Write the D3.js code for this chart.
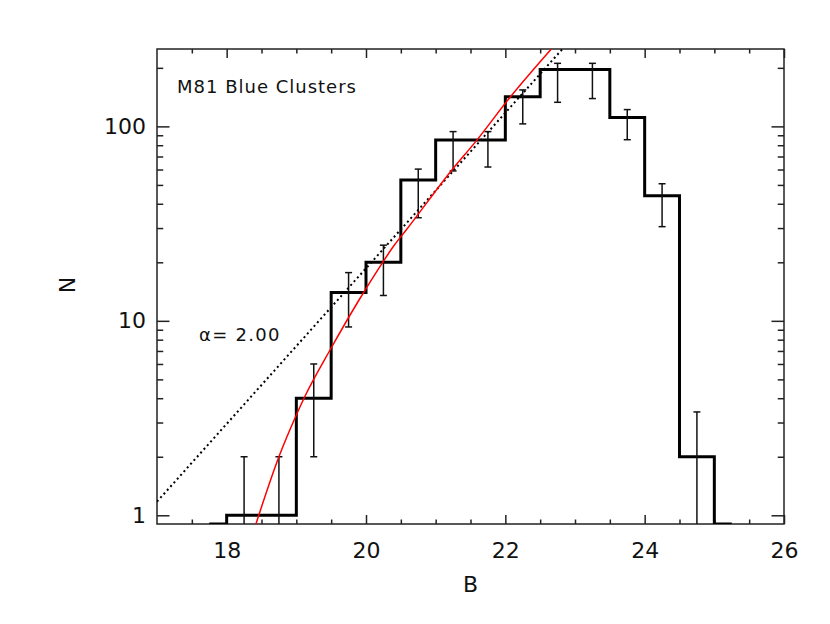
<!DOCTYPE html>
<html>
<head>
<meta charset="utf-8">
<script src="https://cdnjs.cloudflare.com/ajax/libs/d3/7.8.5/d3.min.js"></script>
<style>
  body { margin: 0; background: #fff; }
  text { font-family: 'DejaVu Sans', sans-serif; fill: #111; }
  .axis path { display: none; }
  .axis line { stroke: #222; stroke-width: 1.5; }
</style>
</head>
<body>
<svg width="830" height="624"></svg>
<script>
// histogram bins (centres) and counts
var binCenters = [17.75, 18.25, 18.75, 19.25, 19.75, 20.25, 20.75, 21.25, 21.75, 22.25, 22.75, 23.25, 23.75, 24.25, 24.75, 25.25];
var counts = [0, 1, 1, 4, 14, 20, 53, 85, 85, 142, 196, 196, 111, 44, 2, 0];

// error bars
var errB = [18.25, 18.75, 19.25, 19.75, 20.25, 20.75, 21.25, 21.75, 22.25, 22.75, 23.25, 23.75, 24.25, 24.75];
var errHi = [2, 2, 6, 17.7, 24.5, 60.3, 94, 94, 154, 211, 211, 122, 50.7, 3.4];
var errLo = [0, 0, 2, 9.3, 13.5, 33.9, 59, 61.8, 103, 133, 139, 85.4, 30.5, 0];

// red fitted curve
var fitB = [18.42, 18.75, 19.0, 19.11, 19.5, 19.9, 20.24, 20.41, 20.58, 21.23, 21.58, 22.06, 22.66];
var fitN = [0.9, 2.0, 3.28, 4.0, 7.25, 12.8, 20.0, 24.6, 29.4, 59.5, 84, 140, 251];

// dotted power law, alpha = 2
var dotB = [17, 22.82];
var dotN = [1.175, 250];

var xMajor = [18, 20, 22, 24, 26];
var xMinor = [17.5, 18.5, 19, 19.5, 20.5, 21, 21.5, 22.5, 23, 23.5, 24.5, 25, 25.5];
var yMajor = [1, 10, 100];
var yMinor = [2, 3, 4, 5, 6, 7, 8, 9, 20, 30, 40, 50, 60, 70, 80, 90, 200];

var svg = d3.select('svg');
var padding = {t: 49, r: 46, b: 100, l: 157};
var chartWidth = 830 - padding.l - padding.r;
var chartHeight = 624 - padding.t - padding.b;

var chartG = svg.append('g')
    .attr('transform', 'translate(' + [padding.l, padding.t] + ')');

var x = d3.scaleLinear().domain([17, 26]).range([0, chartWidth]);
var y = d3.scaleLog().domain([0.902, 250]).range([chartHeight, 0]).clamp(true);

svg.append('defs').append('clipPath').attr('id', 'clip')
    .append('rect').attr('width', chartWidth).attr('height', chartHeight);

// ticks, all pointing inward
var xTick = 9, yTick = 12.5;
function noLabel() { return ''; }

chartG.append('g').attr('class', 'axis')
    .attr('transform', 'translate(0,' + chartHeight + ')')
    .call(d3.axisBottom(x).tickValues(xMajor).tickSize(-xTick).tickPadding(18).tickFormat(d3.format('d')))
    .selectAll('text').style('font-size', '22px').attr('font-family', null);
chartG.append('g').attr('class', 'axis')
    .attr('transform', 'translate(0,' + chartHeight + ')')
    .call(d3.axisBottom(x).tickValues(xMinor).tickSize(-xTick / 2).tickFormat(noLabel));
chartG.append('g').attr('class', 'axis')
    .call(d3.axisTop(x).tickValues(xMajor).tickSize(-xTick).tickFormat(noLabel));
chartG.append('g').attr('class', 'axis')
    .call(d3.axisTop(x).tickValues(xMinor).tickSize(-xTick / 2).tickFormat(noLabel));

chartG.append('g').attr('class', 'axis')
    .call(d3.axisLeft(y).tickValues(yMajor).tickSize(-yTick).tickPadding(11).tickFormat(d3.format('d')))
    .selectAll('text').style('font-size', '22px').attr('font-family', null);
chartG.append('g').attr('class', 'axis')
    .call(d3.axisLeft(y).tickValues(yMinor).tickSize(-yTick / 2).tickFormat(noLabel));
chartG.append('g').attr('class', 'axis')
    .attr('transform', 'translate(' + chartWidth + ',0)')
    .call(d3.axisRight(y).tickValues(yMajor).tickSize(-yTick).tickFormat(noLabel));
chartG.append('g').attr('class', 'axis')
    .attr('transform', 'translate(' + chartWidth + ',0)')
    .call(d3.axisRight(y).tickValues(yMinor).tickSize(-yTick / 2).tickFormat(noLabel));

chartG.append('rect')
    .attr('width', chartWidth).attr('height', chartHeight)
    .attr('fill', 'none').attr('stroke', '#222').attr('stroke-width', 1.5);

var plot = chartG.append('g').attr('clip-path', 'url(#clip)');

// dotted alpha=2 line
plot.append('path')
    .datum(d3.zip(dotB, dotN))
    .attr('d', d3.line().x(function(d) { return x(d[0]); }).y(function(d) { return y(d[1]); }))
    .attr('fill', 'none').attr('stroke', '#000')
    .attr('stroke-width', 2).attr('stroke-dasharray', '2,3');

// histogram
plot.append('path')
    .datum(d3.zip(binCenters, counts))
    .attr('d', d3.line().curve(d3.curveStep)
        .x(function(d) { return x(d[0]); }).y(function(d) { return y(d[1]); }))
    .attr('fill', 'none').attr('stroke', '#000').attr('stroke-width', 3);

// error bars
var bars = plot.selectAll('.err').data(d3.range(errB.length)).enter().append('g').attr('class', 'err');
bars.append('line')
    .attr('x1', function(i) { return x(errB[i]); }).attr('x2', function(i) { return x(errB[i]); })
    .attr('y1', function(i) { return y(errLo[i]); }).attr('y2', function(i) { return y(errHi[i]); })
    .attr('stroke', '#111').attr('stroke-width', 1.5);
bars.append('line')
    .attr('x1', function(i) { return x(errB[i]) - 3.5; }).attr('x2', function(i) { return x(errB[i]) + 3.5; })
    .attr('y1', function(i) { return y(errHi[i]); }).attr('y2', function(i) { return y(errHi[i]); })
    .attr('stroke', '#111').attr('stroke-width', 1.5);
bars.filter(function(i) { return errLo[i] > 0.902; }).append('line')
    .attr('x1', function(i) { return x(errB[i]) - 3.5; }).attr('x2', function(i) { return x(errB[i]) + 3.5; })
    .attr('y1', function(i) { return y(errLo[i]); }).attr('y2', function(i) { return y(errLo[i]); })
    .attr('stroke', '#111').attr('stroke-width', 1.5);

// red fit
plot.append('path')
    .datum(d3.zip(fitB, fitN))
    .attr('d', d3.line().curve(d3.curveMonotoneX)
        .x(function(d) { return x(d[0]); }).y(function(d) { return y(d[1]); }))
    .attr('fill', 'none').attr('stroke', '#ff0000').attr('stroke-width', 1.5);

// labels
chartG.append('text')
    .attr('x', 20).attr('y', 44)
    .style('font-size', '18px').style('letter-spacing', '1px')
    .text('M81 Blue Clusters');
chartG.append('text')
    .attr('x', 42).attr('y', 292)
    .style('font-size', '18px').style('letter-spacing', '1.3px')
    .text('\u03b1= 2.00');

svg.append('text')
    .attr('x', padding.l + chartWidth / 2).attr('y', 592)
    .attr('text-anchor', 'middle').style('font-size', '22px')
    .text('B');
svg.append('text')
    .attr('transform', 'translate(75,285) rotate(-90)')
    .attr('text-anchor', 'middle').style('font-size', '22px')
    .text('N');
</script>
</body>
</html>
